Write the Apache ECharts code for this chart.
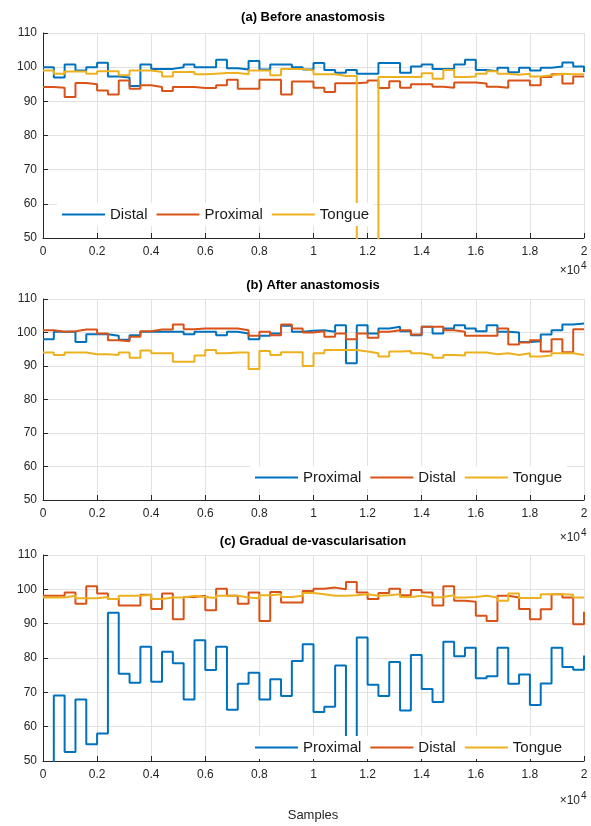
<!DOCTYPE html>
<html>
<head>
<meta charset="utf-8">
<script src="https://cdn.jsdelivr.net/npm/echarts@6/dist/echarts.min.js"></script>
<style>html,body{margin:0;padding:0;background:#fff}#c{width:591px;height:826px}</style>
</head>
<body>
<div id="c"></div>
<script>
// samples per step segment; 50 segments + closing value at 20000
const SEG = 400;
const xTickLabels = ['0','0.2','0.4','0.6','0.8','1','1.2','1.4','1.6','1.8','2'];
const yTicks = [50, 60, 70, 80, 90, 100, 110];

// (a) Before anastomosis
const aDistal = [100, 97, 100.8, 99, 100, 101.3, 97.3, 97.0, 94.5, 100.8,
  99.5, 99.5, 100, 100.8, 100, 100, 102.2, 99.7, 99.3, 101.8,
  99.3, 100.8, 100.8, 100, 99.3, 101.2, 99.2, 98.4, 99.2, 98.1,
  98.1, 101.2, 101.2, 98.4, 100.2, 100.8, 99.5, 99.5, 100.8, 102.2,
  99.2, 98.8, 99.8, 98.5, 99.8, 99, 99.8, 100.2, 101.4, 100.2, 98.6];
const aProximal = [94.2, 94.0, 91.3, 95.4, 95.0, 93.2, 92.0, 96.1, 93.7, 94.7,
  94.2, 93.0, 94.2, 94.2, 93.9, 93.9, 94.7, 96.3, 93.7, 93.7,
  96.3, 96.3, 92.0, 95.8, 95.8, 94.0, 92.7, 95.3, 95.3, 95.5,
  96.1, 93.9, 95.9, 94.0, 95.0, 95.0, 94.3, 94.0, 95.5, 95.5,
  95.2, 94.3, 94.0, 96.1, 96.1, 94.7, 97.1, 97.9, 95.2, 97.3, 97.3];
const aTongue = [99.0, 98.1, 98.7, 98.7, 98.1, 98.8, 98.8, 97.6, 99.0, 99.0,
  98.6, 97.3, 98.6, 98.6, 97.9, 98.1, 98.3, 98.3, 97.9, 99.0,
  99.0, 97.6, 99.5, 99.5, 99.0, 97.9, 97.9, 97.4, 97.4, 35,
  35, 97.1, 97.1, 97.1, 97.1, 98.2, 96.6, 99.2, 97.1, 97.3,
  98.1, 98.8, 98.1, 97.8, 98.1, 97.3, 97.6, 98.1, 97.9, 97.9, 97.9];

// (b) After anastomosis
const bProximal = [98.0, 100.2, 100.2, 97.2, 99.5, 99.5, 99.0, 97.8, 99.2, 100.2,
  100.2, 100.2, 100.2, 99.5, 100.2, 100.2, 99.2, 100.2, 99.7, 98.0,
  99.0, 99.7, 102.0, 100.2, 100.5, 100.7, 100.2, 102.2, 90.8, 102.2,
  99.7, 101.2, 101.7, 100.4, 99.2, 101.7, 99.7, 101.2, 102.2, 101.2,
  100.4, 102.2, 100.2, 100.0, 97.2, 97.4, 99.4, 100.7, 102.4, 102.7, 102.7];
const bDistal = [100.7, 100.2, 100.4, 100.9, 100.9, 99.7, 97.7, 97.4, 98.7, 100.4,
  100.9, 100.9, 102.4, 101.0, 101.2, 101.2, 101.2, 101.2, 100.7, 99.0,
  100.2, 99.2, 102.4, 101.2, 100.0, 100.4, 98.7, 99.7, 98.0, 99.7,
  98.4, 100.2, 100.7, 100.7, 99.4, 101.7, 101.7, 100.7, 100.2, 99.0,
  99.0, 99.0, 101.2, 96.4, 97.0, 97.7, 94.3, 98.0, 94.1, 101.0, 101.0];
const bTongue = [94.0, 93.3, 94.0, 94.0, 93.5, 93.5, 93.3, 94.0, 92.5, 94.6,
  93.8, 93.8, 91.3, 91.3, 93.1, 94.8, 93.8, 94.0, 94.0, 89.1,
  94.5, 93.3, 94.1, 94.1, 90.0, 93.8, 94.8, 94.8, 94.8, 94.3,
  93.8, 92.8, 94.3, 94.5, 93.8, 93.3, 92.5, 93.3, 93.1, 94.0,
  94.0, 93.5, 93.8, 93.3, 93.8, 92.8, 93.1, 93.8, 93.8, 93.3, 93.3];

// (c) Gradual de-vascularisation
const cProximal = [45, 69.1, 52.6, 67.9, 54.9, 58.0, 93.2, 75.4, 72.8, 83.3,
  73.1, 81.8, 78.5, 67.9, 85.2, 76.5, 83.3, 64.9, 72.5, 75.7,
  67.9, 73.8, 68.9, 79.1, 84.0, 64.3, 65.8, 77.8, 54, 86.0,
  72.2, 68.9, 78.8, 64.7, 80.9, 71.0, 67.2, 84.7, 80.5, 83.0,
  74.1, 74.7, 83.0, 72.5, 75.2, 66.3, 72.6, 83.0, 77.4, 76.6, 80.7];
const cDistal = [98.1, 98.1, 99.1, 95.8, 100.9, 98.8, 97.2, 95.3, 95.3, 98.4,
  94.3, 98.8, 91.3, 97.8, 98.1, 93.9, 100.2, 98.1, 95.8, 99.1,
  90.8, 99.2, 96.2, 96.2, 99.5, 100.2, 100.5, 100.0, 102.1, 99.1,
  97.2, 98.9, 100.2, 98.3, 99.8, 99.1, 95.3, 100.9, 96.7, 96.4,
  92.3, 90.8, 98.1, 97.6, 94.3, 91.3, 94.2, 98.6, 97.6, 89.8, 93.5];
const cTongue = [97.6, 97.6, 98.1, 97.4, 97.4, 97.8, 97.2, 98.1, 98.1, 98.4,
  97.2, 97.6, 97.6, 98.1, 97.8, 97.5, 98.1, 98.1, 97.6, 97.4,
  98.3, 98.6, 97.8, 98.1, 98.9, 98.6, 98.1, 98.1, 98.3, 98.6,
  98.1, 98.3, 98.6, 97.8, 98.1, 97.6, 97.8, 98.3, 97.6, 97.8,
  98.1, 97.6, 96.7, 98.8, 97.5, 97.5, 98.6, 98.6, 98.4, 97.6, 97.6];

const BLUE = '#0072BD', ORANGE = '#D95319', YELLOW = '#EDB120';
const FONT = "'Liberation Sans', Arial, Helvetica, sans-serif";
const AX = '#262626';

const grids = [
  {left: 43, top: 33, width: 541, height: 205},
  {left: 43, top: 299, width: 541, height: 201},
  {left: 43, top: 555, width: 541, height: 206}
];

function steps(vals) { return vals.map((v, i) => [i * SEG, v]); }

function xAx(g) {
  return {
    type: 'value', gridIndex: g, min: 0, max: 20000, interval: 2000,
    axisLine: {show: true, onZero: false, lineStyle: {color: AX, width: 1}},
    axisTick: {show: true, inside: true, length: 5, lineStyle: {color: AX}},
    axisLabel: {color: AX, fontSize: 12, fontFamily: FONT, margin: 8,
      formatter: v => xTickLabels[Math.round(v / 2000)]},
    splitLine: {show: true, lineStyle: {color: '#e2e2e2', width: 1}}
  };
}
function yAx(g) {
  return {
    type: 'value', gridIndex: g, min: yTicks[0], max: yTicks[yTicks.length - 1], interval: 10,
    axisLine: {show: true, onZero: false, lineStyle: {color: AX, width: 1}},
    axisTick: {show: true, inside: true, length: 5, lineStyle: {color: AX}},
    axisLabel: {color: AX, fontSize: 12, fontFamily: FONT, margin: 6},
    splitLine: {show: true, lineStyle: {color: '#e2e2e2', width: 1}}
  };
}
function ser(name, vals, color, g) {
  return {
    name: name, type: 'line', step: 'end', data: steps(vals),
    xAxisIndex: g, yAxisIndex: g, showSymbol: false, symbol: 'none',
    lineStyle: {color: color, width: 2}, itemStyle: {color: color},
    clip: true, animation: false
  };
}
function leg(names, left, top) {
  return {
    data: names, left: left, top: top, orient: 'horizontal',
    icon: 'rect', itemWidth: 43, itemHeight: 2, itemGap: 9,
    backgroundColor: '#fff', padding: [4, 5, 4, 5],
    textStyle: {fontSize: 15, color: '#1a1a1a', fontFamily: FONT},
    formatter: n => n.slice(2), selectedMode: false
  };
}
function txt(x, y, t, opts) {
  return {type: 'text', x: x, y: y, silent: true,
    style: Object.assign({text: t, fontFamily: FONT, fill: AX, textVerticalAlign: 'middle'}, opts)};
}
const titles = ['(a) Before anastomosis', '(b) After anastomosis', '(c) Gradual de-vascularisation'];
const titleY = [17, 285, 541];
const expY = [271, 538, 801];

const graphics = [];
titles.forEach((t, i) => {
  graphics.push(txt(313, titleY[i], t, {textAlign: 'center', fontSize: 13, fontWeight: 'bold', fill: '#000'}));
  graphics.push(txt(580, expY[i], '×10', {textAlign: 'right', fontSize: 12}));
  graphics.push(txt(581, expY[i] - 5, '4', {textAlign: 'left', fontSize: 10}));
});
graphics.push(txt(313, 815, 'Samples', {textAlign: 'center', fontSize: 13}));

const chart = echarts.init(document.getElementById('c'), null, {renderer: 'canvas'});
chart.setOption({
  animation: false,
  backgroundColor: '#fff',
  grid: grids,
  xAxis: [xAx(0), xAx(1), xAx(2)],
  yAxis: [yAx(0), yAx(1), yAx(2)],
  legend: [
    leg(['a-Distal', 'a-Proximal', 'a-Tongue'], 57, 203),
    leg(['b-Proximal', 'b-Distal', 'b-Tongue'], 250, 466),
    leg(['c-Proximal', 'c-Distal', 'c-Tongue'], 250, 736)
  ],
  series: [
    ser('a-Distal', aDistal, BLUE, 0),
    ser('a-Proximal', aProximal, ORANGE, 0),
    ser('a-Tongue', aTongue, YELLOW, 0),
    ser('b-Proximal', bProximal, BLUE, 1),
    ser('b-Distal', bDistal, ORANGE, 1),
    ser('b-Tongue', bTongue, YELLOW, 1),
    ser('c-Proximal', cProximal, BLUE, 2),
    ser('c-Distal', cDistal, ORANGE, 2),
    ser('c-Tongue', cTongue, YELLOW, 2)
  ],
  graphic: graphics
});
</script>
</body>
</html>
